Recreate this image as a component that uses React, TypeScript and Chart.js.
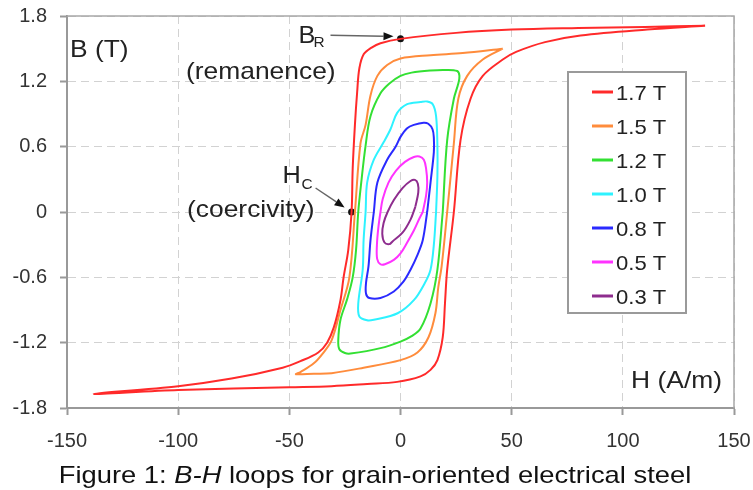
import React, { useEffect, useRef } from "react";
import { Chart, registerables } from "chart.js";

Chart.register(...registerables);

const FONT = "'Liberation Sans', Arial, Helvetica, sans-serif";

// Axis ticks
const X_TICKS = [-150, -100, -50, 0, 50, 100, 150];
const Y_TICKS = [-1.8, -1.2, -0.6, 0, 0.6, 1.2, 1.8];

// Series
const LABELS = ["1.7 T", "1.5 T", "1.2 T", "1.0 T", "0.8 T", "0.5 T", "0.3 T"];
const COLORS = ["#ff2a2a", "#ff8c3c", "#33e033", "#2ef2ff", "#2a2aff", "#ff33ff", "#8e2d8e"];

// 1.7 T loop (H in A/m, B in T)
const H_17 = [137, 110, 80, 50, 25, 0, -9, -13, -16.5, -18.5, -19.5, -20.5, -21.5, -22, -23.5, -25.6, -27, -30, -33, -37, -45, -53, -76, -100, -138, -100, -50, -31, -15, -1.5, 9, 13.5, 16.6, 19, 20, 21, 24, 27, 31.5, 37, 46, 52, 65, 81, 111, 137];
const B_17 = [1.71, 1.70, 1.69, 1.675, 1.645, 1.59, 1.55, 1.51, 1.45, 1.32, 1.10, 0.80, 0.40, 0, -0.35, -0.6, -0.81, -1.06, -1.2, -1.29, -1.37, -1.43, -1.53, -1.60, -1.67, -1.635, -1.61, -1.60, -1.58, -1.56, -1.51, -1.45, -1.36, -1.15, -0.84, -0.53, 0, 0.66, 1.04, 1.25, 1.40, 1.47, 1.56, 1.62, 1.675, 1.71];

// 1.5 T loop
const H_15 = [46, 28, 13.5, 0, -6, -10.4, -13.5, -15.7, -18, -20.5, -23, -27, -31, -35, -39, -45, -47, -39, -31, -16.6, 0, 7.6, 12.6, 15.7, 17, 18.5, 21, 24, 26, 30, 37, 46];
const B_15 = [1.50, 1.46, 1.44, 1.41, 1.35, 1.25, 1.07, 0.80, 0.63, 0, -0.6, -0.9, -1.18, -1.3, -1.39, -1.47, -1.49, -1.485, -1.48, -1.43, -1.36, -1.29, -1.15, -0.93, -0.69, -0.5, 0, 0.63, 1.04, 1.25, 1.40, 1.50];

// 1.2 T loop
const H_12 = [19, 21, 24, 26, 26.5, 25.5, 20, 13.5, 5, 0, -5, -9, -13.5, -15.7, -17.5, -19, -20, -21.5, -24, -27, -28, -27.5, -25, -22.5, -9, 0, 5, 9, 13.5, 16.6, 19];
const B_12 = [0, 0.66, 1.04, 1.18, 1.25, 1.295, 1.305, 1.30, 1.28, 1.25, 1.18, 1.09, 0.88, 0.61, 0.3, 0, -0.35, -0.6, -0.8, -0.99, -1.18, -1.26, -1.295, -1.30, -1.25, -1.19, -1.14, -1.07, -0.84, -0.53, 0];

// 1.0 T loop
const H_10 = [16, 16.6, 16.6, 16, 14.5, 12, 9, 3, -1.5, -4.5, -7.6, -12, -15, -15.7, -16.6, -17, -19, -18.5, -15, -12, -1.3, 6, 11, 13.5, 15, 16];
const B_10 = [0, 0.33, 0.61, 0.88, 0.99, 1.015, 1.01, 0.99, 0.91, 0.76, 0.64, 0.48, 0.27, 0, -0.26, -0.53, -0.84, -0.96, -0.995, -0.99, -0.93, -0.81, -0.65, -0.53, -0.3, 0];

// 0.8 T loop
const H_08 = [12, 13.5, 15, 15, 14.4, 12.5, 10.4, 6, 3, 0, -2.2, -6, -10.4, -12, -13.5, -14.4, -15.5, -15.5, -14, -9, -3, 1.3, 4.5, 7.5, 10, 12];
const B_08 = [0, 0.27, 0.55, 0.68, 0.76, 0.81, 0.82, 0.80, 0.77, 0.69, 0.6, 0.48, 0.27, 0, -0.26, -0.5, -0.65, -0.75, -0.79, -0.79, -0.73, -0.64, -0.53, -0.4, -0.26, 0];

// 0.5 T loop
const H_05 = [10, 11.5, 12, 11.5, 10.5, 8.5, 6, 2, -2, -5.4, -8, -9, -10, -10.6, -10.5, -9, -7, -3, 0, 3, 6, 8.5, 10];
const B_05 = [0, 0.15, 0.27, 0.40, 0.48, 0.51, 0.505, 0.46, 0.38, 0.27, 0.12, 0, -0.15, -0.3, -0.43, -0.48, -0.48, -0.44, -0.38, -0.28, -0.17, -0.06, 0];

// 0.3 T loop
const H_03 = [6.7, 8, 7.8, 6.5, 4.5, 0.9, -3, -5.8, -7.6, -8.2, -7.2, -5, -3.6, 0.9, 4.5, 6.7];
const B_03 = [0.05, 0.18, 0.26, 0.295, 0.285, 0.22, 0.11, 0, -0.1, -0.2, -0.28, -0.295, -0.27, -0.19, -0.07, 0.05];

const LOOPS_H = [H_17, H_15, H_12, H_10, H_08, H_05, H_03];
const LOOPS_B = [B_17, B_15, B_12, B_10, B_08, B_05, B_03];

// Annotated points: remanence B_R and coercivity H_C
const MARK_H = [0, -22];
const MARK_B = [1.59, 0];

function drawText(
  ctx: CanvasRenderingContext2D,
  s: string,
  x: number,
  y: number,
  size: number,
  opt: { italic?: boolean; align?: "left" | "right" | "center"; sx?: number; color?: string } = {}
) {
  const sx = opt.sx ?? 1;
  ctx.save();
  ctx.font = `${opt.italic ? "italic " : ""}${size}px ${FONT}`;
  ctx.fillStyle = opt.color ?? "#222";
  ctx.textBaseline = "alphabetic";
  ctx.textAlign = "left";
  const w = ctx.measureText(s).width * sx;
  let left = x;
  if (opt.align === "right") left = x - w;
  else if (opt.align === "center") left = x - w / 2;
  ctx.translate(left, y);
  ctx.scale(sx, 1);
  ctx.fillText(s, 0, 0);
  ctx.restore();
  return w;
}

function measure(ctx: CanvasRenderingContext2D, s: string, size: number, italic: boolean, sx: number) {
  ctx.save();
  ctx.font = `${italic ? "italic " : ""}${size}px ${FONT}`;
  const w = ctx.measureText(s).width * sx;
  ctx.restore();
  return w;
}

function arrow(ctx: CanvasRenderingContext2D, x1: number, y1: number, x2: number, y2: number) {
  const ang = Math.atan2(y2 - y1, x2 - x1);
  const L = 10;
  const W = 4;
  const bx = x2 - L * Math.cos(ang);
  const by = y2 - L * Math.sin(ang);
  ctx.save();
  ctx.strokeStyle = "#666";
  ctx.lineWidth = 1.5;
  ctx.beginPath();
  ctx.moveTo(x1, y1);
  ctx.lineTo(bx, by);
  ctx.stroke();
  ctx.fillStyle = "#111";
  ctx.beginPath();
  ctx.moveTo(x2, y2);
  ctx.lineTo(bx - W * Math.sin(ang), by + W * Math.cos(ang));
  ctx.lineTo(bx + W * Math.sin(ang), by - W * Math.cos(ang));
  ctx.closePath();
  ctx.fill();
  ctx.restore();
}

const overlayPlugin = {
  id: "overlay",
  beforeDatasetsDraw(chart: any) {
    const { ctx, chartArea: a } = chart;
    ctx.save();
    ctx.strokeStyle = "#a8a8a8";
    ctx.lineWidth = 1.5;
    ctx.beginPath();
    ctx.moveTo(a.left, a.top);
    ctx.lineTo(a.right, a.top);
    ctx.lineTo(a.right, a.bottom);
    ctx.stroke();
    ctx.restore();
  },
  afterDatasetsDraw(chart: any) {
    const { ctx } = chart;
    const sx = 1.1;

    // Axis titles inside plot
    drawText(ctx, "B (T)", 70, 57, 24, { sx });
    drawText(ctx, "H (A/m)", 722, 388, 24, { sx, align: "right" });

    // Marker positions from the chart
    const meta = chart.getDatasetMeta(LOOPS_H.length);
    const br = meta.data[0];
    const hc = meta.data[1];

    // B_R annotation
    drawText(ctx, "B", br.x - 102, br.y + 4, 23, { sx });
    drawText(ctx, "R", br.x - 87, br.y + 8.5, 14, { sx });
    arrow(ctx, br.x - 70, br.y - 3.5, br.x - 7, br.y - 2.5);
    drawText(ctx, "(remanence)", 186, 79, 24, { sx });

    // H_C annotation
    drawText(ctx, "H", hc.x - 69, hc.y - 29, 23, { sx });
    drawText(ctx, "C", hc.x - 50, hc.y - 23, 14, { sx });
    arrow(ctx, hc.x - 36, hc.y - 24, hc.x - 7, hc.y - 4.5);
    drawText(ctx, "(coercivity)", 187, 217, 24, { sx });

    // Legend
    const lx = 568, ly = 72, lw = 118, lh = 241;
    ctx.save();
    ctx.fillStyle = "#fff";
    ctx.fillRect(lx, ly, lw, lh);
    ctx.strokeStyle = "#9a9a9a";
    ctx.lineWidth = 2;
    ctx.strokeRect(lx, ly, lw, lh);
    ctx.restore();
    LABELS.forEach((lab, i) => {
      const cy = 92 + i * 34;
      ctx.save();
      ctx.strokeStyle = COLORS[i];
      ctx.lineWidth = 3;
      ctx.beginPath();
      ctx.moveTo(592, cy);
      ctx.lineTo(613, cy);
      ctx.stroke();
      ctx.restore();
      drawText(ctx, lab, 616, cy + 7.5, 21, { sx: 1.05 });
    });

    // Caption
    const size = 24;
    const csx = 1.14;
    const parts: [string, boolean][] = [
      ["Figure 1: ", false],
      ["B-H", true],
      [" loops for grain-oriented electrical steel", false],
    ];
    const total = parts.reduce((s, p) => s + measure(ctx, p[0], size, p[1], csx), 0);
    let x = 375 - total / 2;
    parts.forEach((p) => {
      x += drawText(ctx, p[0], x, 483, size, { italic: p[1], sx: csx, color: "#111" });
    });
  },
};

export default function App() {
  const ref = useRef<HTMLCanvasElement>(null);
  useEffect(() => {
    const canvas = ref.current;
    if (!canvas) return;
    const datasets: any[] = LOOPS_H.map((hs, i) => ({
      label: LABELS[i],
      data: hs.map((h, j) => ({ x: h, y: LOOPS_B[i][j] })),
      borderColor: COLORS[i],
      backgroundColor: COLORS[i],
      borderWidth: 2,
      pointRadius: 0,
      pointHoverRadius: 0,
      showLine: true,
      tension: 0.35,
      fill: false,
    }));
    datasets.push({
      label: "markers",
      data: MARK_H.map((h, j) => ({ x: h, y: MARK_B[j] })),
      borderColor: "#111",
      backgroundColor: "#111",
      pointRadius: 3.5,
      borderWidth: 0,
      showLine: false,
    });

    const chart = new Chart(canvas, {
      type: "scatter",
      data: { datasets },
      plugins: [overlayPlugin],
      options: {
        responsive: false,
        animation: false,
        layout: { padding: { left: 0, right: 19, top: 16, bottom: 0 } },
        plugins: { legend: { display: false }, tooltip: { enabled: false } },
        scales: {
          x: {
            type: "linear",
            min: X_TICKS[0],
            max: X_TICKS[X_TICKS.length - 1],
            afterBuildTicks: (axis: any) => {
              axis.ticks = X_TICKS.map((v) => ({ value: v }));
            },
            afterFit: (s: any) => {
              s.height = 82;
              s.paddingLeft = 0;
              s.paddingRight = 0;
              s.paddingTop = 0;
              s.paddingBottom = 0;
            },
            ticks: {
              font: { size: 20, family: FONT },
              color: "#333",
              padding: 14,
              maxRotation: 0,
              callback: (v: any) => String(v),
            },
            grid: { color: "#d2d2d2", lineWidth: 1, tickLength: 7, tickColor: "#999", tickWidth: 2 },
            border: { display: true, color: "#999", width: 2, dash: [8, 5] },
          },
          y: {
            type: "linear",
            min: Y_TICKS[0],
            max: Y_TICKS[Y_TICKS.length - 1],
            afterBuildTicks: (axis: any) => {
              axis.ticks = Y_TICKS.map((v) => ({ value: v }));
            },
            afterFit: (s: any) => {
              s.width = 67;
              s.paddingLeft = 0;
              s.paddingRight = 0;
              s.paddingTop = 0;
              s.paddingBottom = 0;
            },
            ticks: {
              font: { size: 20, family: FONT },
              color: "#333",
              padding: 13,
              callback: (v: any) => String(Number(Number(v).toFixed(1))),
            },
            grid: { color: "#d2d2d2", lineWidth: 1, tickLength: 7, tickColor: "#999", tickWidth: 2 },
            border: { display: true, color: "#999", width: 2, dash: [8, 5] },
          },
        },
      } as any,
    });
    return () => chart.destroy();
  }, []);

  return (
    <div style={{ position: "fixed", left: 0, top: 0, width: 753, height: 490, background: "#fff" }}>
      <canvas ref={ref} width={753} height={490} style={{ display: "block" }} />
    </div>
  );
}
